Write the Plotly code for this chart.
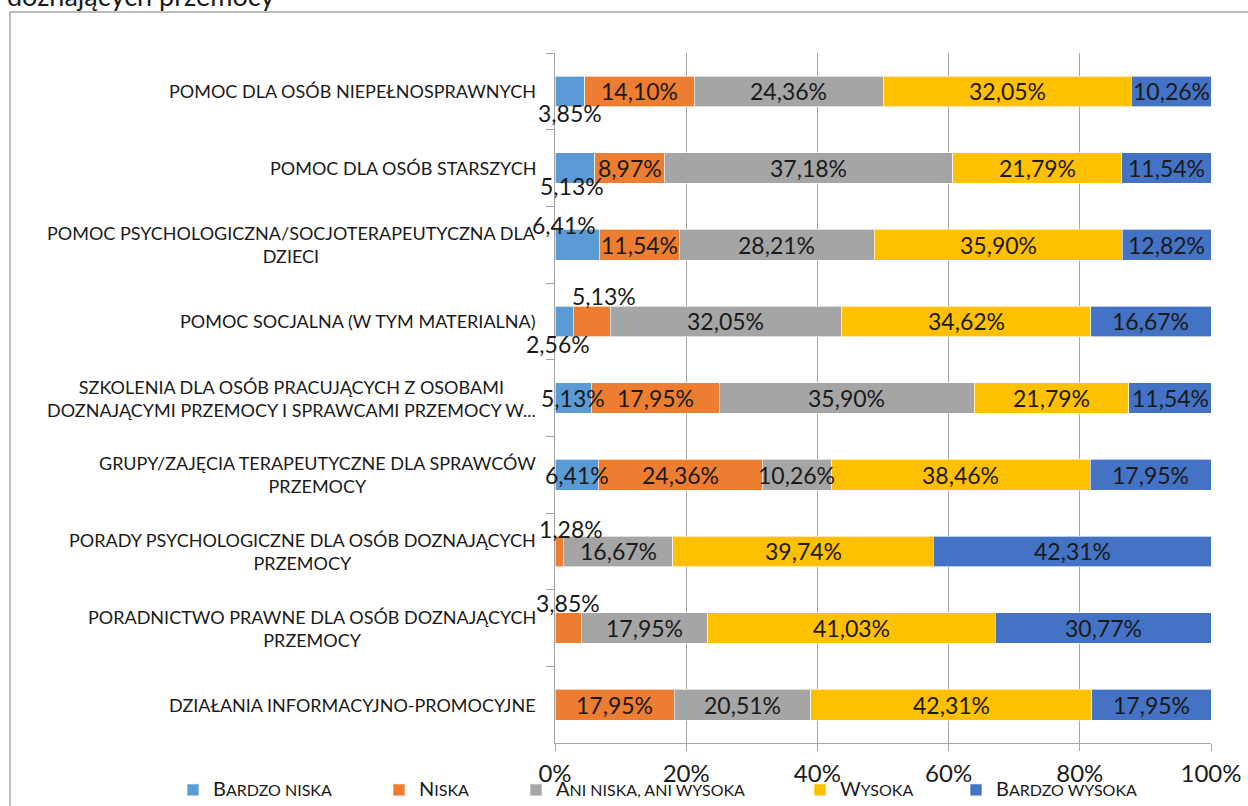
import plotly.graph_objects as go

categories = [
    "POMOC DLA OSÓB NIEPEŁNOSPRAWNYCH",
    "POMOC DLA OSÓB STARSZYCH",
    "POMOC PSYCHOLOGICZNA/SOCJOTERAPEUTYCZNA DLA<br>DZIECI",
    "POMOC SOCJALNA (W TYM MATERIALNA)",
    "SZKOLENIA DLA OSÓB PRACUJĄCYCH Z OSOBAMI<br>DOZNAJĄCYMI PRZEMOCY I SPRAWCAMI PRZEMOCY W...",
    "GRUPY/ZAJĘCIA TERAPEUTYCZNE DLA SPRAWCÓW<br>PRZEMOCY",
    "PORADY PSYCHOLOGICZNE DLA OSÓB DOZNAJĄCYCH<br>PRZEMOCY",
    "PORADNICTWO PRAWNE DLA OSÓB DOZNAJĄCYCH<br>PRZEMOCY",
    "DZIAŁANIA INFORMACYJNO-PROMOCYJNE",
]

bardzo_niska = [3.85, 5.13, 6.41, 2.56, 5.13, 6.41, 0, 0, 0]
niska = [14.10, 8.97, 11.54, 5.13, 17.95, 24.36, 1.28, 3.85, 17.95]
ani = [24.36, 37.18, 28.21, 32.05, 35.90, 10.26, 16.67, 17.95, 20.51]
wysoka = [32.05, 21.79, 35.90, 34.62, 21.79, 38.46, 39.74, 41.03, 42.31]
bardzo_wysoka = [10.26, 11.54, 12.82, 16.67, 11.54, 17.95, 42.31, 30.77, 17.95]

series_names = ["BARDZO NISKA", "NISKA", "ANI NISKA, ANI WYSOKA", "WYSOKA", "BARDZO WYSOKA"]
series_values = [bardzo_niska, niska, ani, wysoka, bardzo_wysoka]
x_ticks = [0, 20, 40, 60, 80, 100]

# ---- styles ----
colors = ["#5B9BD5", "#ED7D31", "#A5A5A5", "#FFC000", "#4472C4"]
FONT = "Lato, Carlito, 'Open Sans', sans-serif"
TXT = "#1a1a1a"
W, H = 1248, 806
PL, PR, PT, PB = 555, 1211, 53, 743  # plot area pixels
pw, ph = PR - PL, PB - PT

# manual label displacement (series index, row index) -> (xshift, yshift) px
label_shift = {
    (0, 0): (0, -22),
    (0, 1): (-3, -18),
    (0, 2): (-13, 20),
    (0, 3): (-6, -23),
    (1, 3): (12, 25),
    (1, 6): (12, 22),
    (1, 7): (0, 25),
}
legend_marker_px = [193, 399, 536, 820, 976]
legend_y_px = 790


def smallcaps(s, big=20, small=16):
    return f"<span style='font-size:{big}px'>{s[0]}</span><span style='font-size:{small}px'>{s[1:]}</span>"


fig = go.Figure()
legend_keys = ["legend", "legend2", "legend3", "legend4", "legend5"]
for i, (name, vals) in enumerate(zip(series_names, series_values)):
    fig.add_trace(go.Bar(
        y=categories, x=vals, orientation="h", name=smallcaps(name),
        marker=dict(color=colors[i], line=dict(color="rgba(255,255,255,0.8)", width=0.8)),
        legend=legend_keys[i], hoverinfo="x+y",
    ))

# data labels (positioned on normalized stack)
annotations = []
for r, cat in enumerate(categories):
    row = [s[r] for s in series_values]
    total = sum(row)
    cum = 0.0
    for j, v in enumerate(row):
        if v > 0:
            mid = (cum + v / 2) / total * 100
            dx, dy = label_shift.get((j, r), (0, 0))
            annotations.append(dict(
                x=mid, y=cat, xref="x", yref="y", text=f"{v:.2f}%".replace(".", ","),
                showarrow=False, xshift=dx, yshift=dy,
                font=dict(family=FONT, size=23, color=TXT),
            ))
        cum += v

# category labels (centered multiline, right aligned block)
for cat in categories:
    annotations.append(dict(
        x=0, y=cat, xref="paper", yref="y", text=cat, showarrow=False,
        xanchor="right", yanchor="middle", align="center", xshift=-17,
        font=dict(family=FONT, size=18, color=TXT),
    ))

# cut title at top
annotations.append(dict(
    x=(5 - PL) / pw, y=(PB - 14) / ph, xref="paper", yref="paper", xanchor="left", yanchor="bottom",
    text="doznających przemocy", showarrow=False,
    font=dict(family=FONT, size=27, color=TXT),
))

layout_legends = {}
for i, key in enumerate(legend_keys):
    layout_legends[key] = dict(
        x=(legend_marker_px[i] - 20 - PL) / pw, xanchor="left",
        y=(PB - legend_y_px) / ph, yanchor="middle",
        orientation="h", bgcolor="rgba(0,0,0,0)",
        font=dict(family=FONT, size=16, color=TXT),
        itemclick=False, itemdoubleclick=False,
    )

fig.update_layout(
    width=W, height=H, autosize=False,
    margin=dict(l=PL, r=W - PR, t=PT, b=H - PB, autoexpand=False),
    barmode="stack", barnorm="percent", bargap=0.6,
    plot_bgcolor="white", paper_bgcolor="white",
    showlegend=True,
    annotations=annotations,
    xaxis=dict(
        range=[0, 100], tickvals=x_ticks, ticktext=[f"{t}%" for t in x_ticks],
        showgrid=True, gridcolor="#A6A6A6", gridwidth=1,
        showline=True, linecolor="#A6A6A6", linewidth=1,
        ticks="outside", ticklen=7, tickcolor="#A6A6A6",
        ticklabelstandoff=2,
        tickfont=dict(family=FONT, size=24, color=TXT),
        zeroline=False, fixedrange=True,
    ),
    yaxis=dict(
        categoryorder="array", categoryarray=categories, autorange="reversed",
        showticklabels=False, showline=True, linecolor="#A6A6A6", linewidth=1,
        ticks="outside", ticklen=8, tickcolor="#A6A6A6", tickson="boundaries",
        showgrid=False, fixedrange=True,
    ),
    shapes=[dict(
        type="rect", xref="paper", yref="paper",
        x0=(10 - PL) / pw, x1=(1265 - PL) / pw,
        y0=(PB - 825) / ph, y1=(PB - 12) / ph,
        line=dict(color="#A6A6A6", width=1.5), fillcolor="rgba(0,0,0,0)", layer="below",
    )],
    **layout_legends,
)

fig.write_html(
    "out.html",
    config={"responsive": False, "displayModeBar": False},
    post_script="document.body.style.margin='0';document.body.style.overflow='hidden';",
)
